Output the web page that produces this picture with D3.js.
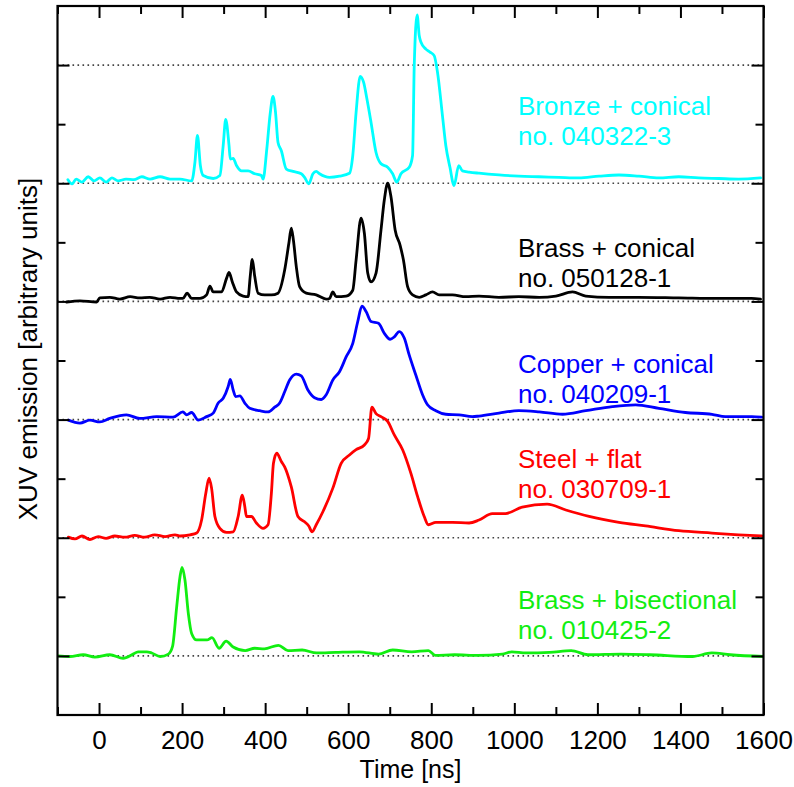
<!DOCTYPE html>
<html><head><meta charset="utf-8">
<script src="https://cdn.jsdelivr.net/npm/d3@7/dist/d3.min.js"></script>
<style>
body{margin:0;background:#fff}
svg{display:block}
text{font-family:"Liberation Sans",Arial,Helvetica,sans-serif}
</style>
</head><body>
<svg id="chart" width="794" height="787"></svg>
<script>
// ---------- data ----------
const xMajorTicks = [0,200,400,600,800,1000,1200,1400,1600];
const xMinorTicks = [-100,100,300,500,700,900,1100,1300,1500];
const yMajorTicks = [1,3,5,7,9,11];
const yMinorTicks = [2,4,6,8,10];
const baselines = [1,3,5,7,9,11];

const seriesNames = ["Brass + bisectional","Steel + flat","Copper + conical","Brass + conical","Bronze + conical"];
const shotNumbers = ["no. 010425-2","no. 030709-1","no. 040209-1","no. 050128-1","no. 040322-3"];
const seriesOffsets = [1,3,5,7,9];
const seriesColors = ["#11ee11","#ff0000","#0000ff","#000000","#00ffff"];

const bronze = [[-75,0.06],[-65,-0.01],[-55,0.07],[-41,0.02],[-26,0.11],[-12,0.04],[2,0.09],[17,0.02],[31,0.09],[46,0.04],[65,0.07],[84,0.06],[103,0.11],[123,0.07],[147,0.11],[171,0.07],[195,0.07],[223,0.04],[231,0.36],[237,0.81],[244,0.30],[251,0.13],[275,0.08],[291,0.13],[299,0.64],[305,1.08],[313,0.64],[316,0.41],[323,0.42],[331,0.30],[343,0.21],[359,0.21],[375,0.16],[391,0.13],[395,0.07],[404,0.58],[412,1.17],[419,1.47],[425,1.20],[431,0.69],[439,0.55],[451,0.24],[467,0.20],[487,0.16],[495,0.10],[505,-0.01],[515,0.16],[523,0.20],[531,0.16],[555,0.10],[579,0.12],[603,0.17],[611,0.47],[619,1.20],[629,1.81],[637,1.71],[645,1.43],[655,1.03],[667,0.52],[679,0.33],[695,0.27],[707,0.16],[717,0.02],[727,0.16],[747,0.27],[755,0.47],[759,1.99],[766,2.85],[771,2.50],[775,2.39],[787,2.27],[797,2.22],[807,2.16],[815,1.88],[827,1.14],[835,0.64],[845,0.27],[855,-0.04],[866,0.30],[875,0.21],[891,0.19],[915,0.17],[963,0.14],[1011,0.12],[1059,0.11],[1107,0.10],[1155,0.09],[1204,0.12],[1252,0.14],[1300,0.12],[1348,0.09],[1396,0.11],[1444,0.09],[1492,0.08],[1540,0.07],[1593,0.09]];

const brassConical = [[-78,-0.01],[-46,0.01],[-6,-0.01],[2,0.06],[26,0.07],[50,0.04],[75,0.08],[98,0.06],[122,0.07],[147,0.04],[171,0.07],[195,0.05],[202,0.05],[212,0.14],[223,0.05],[243,0.05],[259,0.11],[267,0.26],[275,0.16],[295,0.16],[307,0.39],[313,0.49],[321,0.33],[331,0.16],[347,0.09],[359,0.08],[364,0.42],[369,0.71],[375,0.42],[383,0.14],[399,0.11],[415,0.11],[431,0.14],[447,0.53],[457,0.98],[463,1.24],[468,1.04],[475,0.59],[483,0.25],[499,0.14],[523,0.11],[547,0.04],[555,0.05],[563,0.16],[571,0.08],[595,0.09],[611,0.19],[619,0.70],[631,1.41],[639,1.15],[647,0.48],[655,0.33],[667,0.48],[679,1.21],[687,1.72],[695,2.00],[703,1.77],[713,1.21],[725,0.95],[733,0.70],[743,0.25],[755,0.11],[771,0.07],[787,0.11],[803,0.16],[819,0.11],[851,0.11],[883,0.08],[915,0.09],[963,0.07],[1011,0.08],[1060,0.07],[1100,0.09],[1140,0.16],[1172,0.09],[1228,0.07],[1300,0.07],[1396,0.06],[1492,0.05],[1571,0.05],[1593,0.04]];

const copper = [[-74,-0.01],[-46,-0.06],[-22,-0.01],[2,-0.04],[26,0.02],[66,0.08],[98,0.02],[139,0.05],[178,0.04],[202,0.13],[211,0.08],[223,0.12],[239,-0.01],[259,0.05],[275,0.11],[287,0.28],[299,0.36],[311,0.56],[316,0.68],[323,0.50],[329,0.39],[339,0.40],[351,0.28],[363,0.19],[387,0.15],[407,0.13],[423,0.21],[435,0.28],[447,0.47],[459,0.67],[475,0.77],[487,0.74],[503,0.50],[519,0.37],[535,0.34],[547,0.42],[563,0.67],[579,0.81],[595,1.06],[611,1.29],[623,1.66],[633,1.92],[643,1.83],[655,1.66],[673,1.63],[687,1.46],[701,1.36],[711,1.40],[723,1.49],[735,1.38],[747,1.09],[763,0.75],[779,0.42],[791,0.25],[811,0.15],[835,0.09],[867,0.08],[899,0.05],[915,0.06],[963,0.11],[1011,0.15],[1060,0.13],[1116,0.09],[1172,0.15],[1236,0.22],[1292,0.25],[1348,0.19],[1412,0.12],[1476,0.09],[1508,0.05],[1572,0.05],[1596,0.04]];

const steel = [[-74,0.01],[-58,-0.02],[-41,0.03],[-22,-0.03],[-2,0.02],[17,-0.01],[38,0.03],[62,0.01],[86,0.04],[110,0.01],[134,0.05],[159,0.02],[183,0.05],[195,0.03],[219,0.05],[235,0.08],[247,0.30],[257,0.75],[265,1.01],[271,0.84],[279,0.36],[291,0.16],[307,0.09],[323,0.10],[335,0.36],[345,0.72],[351,0.53],[355,0.36],[367,0.36],[379,0.25],[395,0.16],[407,0.22],[415,0.75],[420,1.26],[428,1.43],[439,1.29],[447,1.20],[463,0.86],[479,0.36],[495,0.27],[505,0.20],[513,0.10],[523,0.22],[539,0.44],[563,0.84],[583,1.26],[603,1.40],[619,1.49],[639,1.57],[649,1.68],[657,2.21],[667,2.10],[679,2.05],[695,1.97],[711,1.74],[731,1.49],[751,1.09],[767,0.70],[783,0.36],[793,0.22],[811,0.26],[851,0.26],[891,0.25],[915,0.30],[947,0.41],[979,0.41],[1019,0.52],[1079,0.57],[1124,0.47],[1180,0.36],[1252,0.26],[1316,0.20],[1396,0.12],[1476,0.08],[1540,0.05],[1596,0.03]];

const brassBisectional = [[-100,0.00],[-70,-0.01],[-38,0.02],[-10,-0.02],[26,0.02],[58,-0.04],[82,0.03],[94,0.07],[115,0.07],[127,0.05],[147,-0.01],[167,0.03],[177,0.16],[187,0.83],[195,1.34],[200,1.50],[207,1.28],[215,0.72],[223,0.38],[235,0.27],[260,0.27],[272,0.31],[289,0.13],[306,0.25],[323,0.15],[352,0.09],[375,0.13],[398,0.12],[432,0.18],[455,0.09],[489,0.10],[524,0.05],[570,0.06],[627,0.07],[673,0.03],[707,0.10],[753,0.07],[793,0.09],[810,0.01],[856,0.02],[913,0.01],[971,0.03],[994,0.07],[1028,0.05],[1085,0.06],[1137,0.09],[1177,0.02],[1257,0.03],[1326,0.02],[1429,-0.01],[1475,0.05],[1520,0.02],[1600,-0.01]];

const seriesData = [brassBisectional, steel, copper, brassConical, bronze];

// ---------- layout ----------
const L = 57.5, R = 763.5, T = 6, B = 715;
const FS = 26;
const svg = d3.select("#chart");
const x = d3.scaleLinear().domain([-100,1600]).range([L,R]);
const y = d3.scaleLinear().domain([0,12]).range([B,T]);

svg.append("defs").append("clipPath").attr("id","clip")
  .append("rect").attr("x",L).attr("y",T).attr("width",R-L).attr("height",B-T);

// dotted baselines
svg.append("g").selectAll("line").data(baselines).join("line")
  .attr("x1",L).attr("x2",R).attr("y1",d=>y(d)).attr("y2",d=>y(d))
  .attr("stroke","#444").attr("stroke-width",1.6).attr("stroke-dasharray","1.6 3.4");

// curves
const line = d3.line().x(d=>x(d[0])).curve(d3.curveMonotoneX);
const gLines = svg.append("g").attr("clip-path","url(#clip)");
seriesData.forEach((s,i)=>{
  gLines.append("path").datum(s)
    .attr("d", line.y(d=>y(seriesOffsets[i]+d[1])))
    .attr("fill","none").attr("stroke",seriesColors[i])
    .attr("stroke-width",2.8).attr("stroke-linejoin","round").attr("stroke-linecap","round");
});

// axes
function styleAxis(g){
  g.select(".domain").remove();
  g.selectAll(".tick line").attr("stroke","#000").attr("stroke-width",2);
  g.selectAll(".tick text").attr("fill","#000").attr("font-size",FS)
    .attr("font-family",'"Liberation Sans",Arial,sans-serif');
}
svg.append("g").attr("transform",`translate(0,${B})`)
  .call(d3.axisBottom(x).tickValues(xMajorTicks).tickSize(-12).tickPadding(16).tickFormat(d3.format("d")))
  .call(styleAxis);
svg.append("g").attr("transform",`translate(0,${B})`)
  .call(d3.axisBottom(x).tickValues(xMinorTicks).tickSize(-8).tickFormat(""))
  .call(styleAxis);
svg.append("g").attr("transform",`translate(0,${T})`)
  .call(d3.axisTop(x).tickValues(xMajorTicks).tickSize(-12).tickFormat(""))
  .call(styleAxis);
svg.append("g").attr("transform",`translate(0,${T})`)
  .call(d3.axisTop(x).tickValues(xMinorTicks).tickSize(-8).tickFormat(""))
  .call(styleAxis);
svg.append("g").attr("transform",`translate(${L},0)`)
  .call(d3.axisLeft(y).tickValues(yMajorTicks).tickSize(-12).tickFormat(""))
  .call(styleAxis);
svg.append("g").attr("transform",`translate(${L},0)`)
  .call(d3.axisLeft(y).tickValues(yMinorTicks).tickSize(-8).tickFormat(""))
  .call(styleAxis);
svg.append("g").attr("transform",`translate(${R},0)`)
  .call(d3.axisRight(y).tickValues(yMajorTicks).tickSize(-12).tickFormat(""))
  .call(styleAxis);
svg.append("g").attr("transform",`translate(${R},0)`)
  .call(d3.axisRight(y).tickValues(yMinorTicks).tickSize(-8).tickFormat(""))
  .call(styleAxis);

// frame
svg.append("rect").attr("x",L).attr("y",T).attr("width",R-L).attr("height",B-T)
  .attr("fill","none").attr("stroke","#000").attr("stroke-width",2.2);

// axis titles
svg.append("text").attr("x",(L+R)/2).attr("y",778).attr("text-anchor","middle")
  .attr("font-size",25).text("Time [ns]");
svg.append("text").attr("transform",`translate(37,349) rotate(-90)`)
  .attr("text-anchor","middle").attr("font-size",FS).text("XUV emission [arbitrary units]");

// series labels
const labelYs = [609, 468, 373, 257, 115];
seriesNames.forEach((n,i)=>{
  const t = svg.append("text").attr("x",518).attr("y",labelYs[i])
    .attr("font-size",FS).attr("fill",seriesColors[i]);
  t.append("tspan").attr("x",518).text(n);
  t.append("tspan").attr("x",518).attr("dy",29.5).text(shotNumbers[i]);
});
</script>
</body></html>
